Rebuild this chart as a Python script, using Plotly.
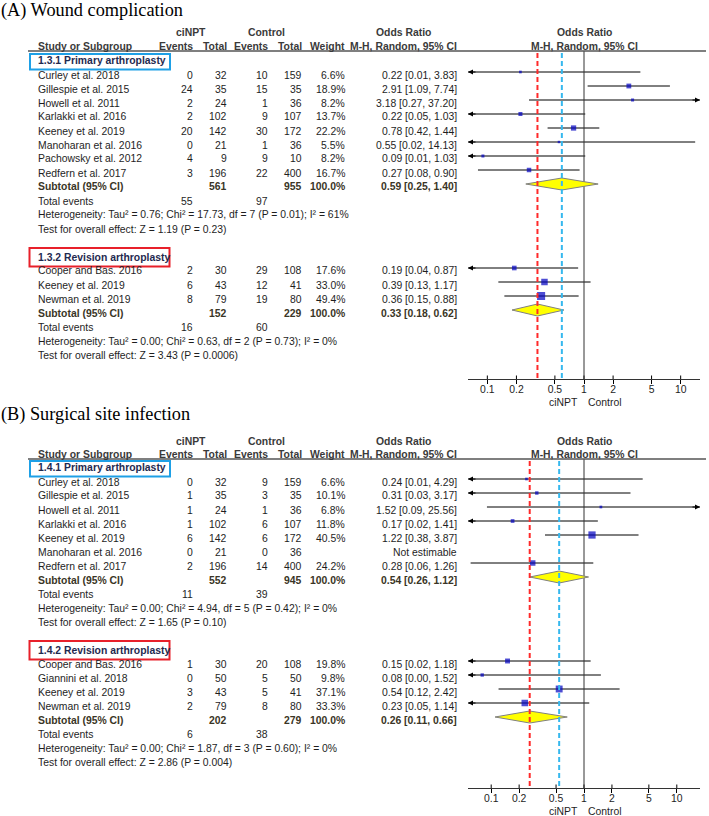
import math
import plotly.graph_objects as go

W, H = 709, 816

# ---------------- data ----------------
# Panel A : wound complication
A_title = "(A) Wound complication"
A1_label = "1.3.1 Primary arthroplasty"
A1_study = ["Curley et al. 2018", "Gillespie et al. 2015", "Howell et al. 2011",
            "Karlakki et al. 2016", "Keeney et al. 2019", "Manoharan et al. 2016",
            "Pachowsky et al. 2012", "Redfern et al. 2017"]
A1_ev1 = [0, 24, 2, 2, 20, 0, 4, 3]
A1_tot1 = [32, 35, 24, 102, 142, 21, 9, 196]
A1_ev2 = [10, 15, 1, 9, 30, 1, 9, 22]
A1_tot2 = [159, 35, 36, 107, 172, 36, 10, 400]
A1_weight = [6.6, 18.9, 8.2, 13.7, 22.2, 5.5, 8.2, 16.7]
A1_or = [0.22, 2.91, 3.18, 0.22, 0.78, 0.55, 0.09, 0.27]
A1_lo = [0.01, 1.09, 0.27, 0.05, 0.42, 0.02, 0.01, 0.08]
A1_hi = [3.83, 7.74, 37.20, 1.03, 1.44, 14.13, 1.03, 0.90]
A1_sub_tot = [561, 955]
A1_sub_or = [0.59, 0.25, 1.40]
A1_events = [55, 97]
A1_het = "Heterogeneity: Tau² = 0.76; Chi² = 17.73, df = 7 (P = 0.01); I² = 61%"
A1_test = "Test for overall effect: Z = 1.19 (P = 0.23)"

A2_label = "1.3.2 Revision arthroplasty"
A2_study = ["Cooper and Bas. 2016", "Keeney et al. 2019", "Newman et al. 2019"]
A2_ev1 = [2, 6, 8]
A2_tot1 = [30, 43, 79]
A2_ev2 = [29, 12, 19]
A2_tot2 = [108, 41, 80]
A2_weight = [17.6, 33.0, 49.4]
A2_or = [0.19, 0.39, 0.36]
A2_lo = [0.04, 0.13, 0.15]
A2_hi = [0.87, 1.17, 0.88]
A2_sub_tot = [152, 229]
A2_sub_or = [0.33, 0.18, 0.62]
A2_events = [16, 60]
A2_het = "Heterogeneity: Tau² = 0.00; Chi² = 0.63, df = 2 (P = 0.73); I² = 0%"
A2_test = "Test for overall effect: Z = 3.43 (P = 0.0006)"

# Panel B : surgical site infection
B_title = "(B) Surgical site infection"
B1_label = "1.4.1 Primary arthroplasty"
B1_study = ["Curley et al. 2018", "Gillespie et al. 2015", "Howell et al. 2011",
            "Karlakki et al. 2016", "Keeney et al. 2019", "Manoharan et al. 2016",
            "Redfern et al. 2017"]
B1_ev1 = [0, 1, 1, 1, 6, 0, 2]
B1_tot1 = [32, 35, 24, 102, 142, 21, 196]
B1_ev2 = [9, 3, 1, 6, 6, 0, 14]
B1_tot2 = [159, 35, 36, 107, 172, 36, 400]
B1_weight = [6.6, 10.1, 6.8, 11.8, 40.5, None, 24.2]
B1_or = [0.24, 0.31, 1.52, 0.17, 1.22, None, 0.28]
B1_lo = [0.01, 0.03, 0.09, 0.02, 0.38, None, 0.06]
B1_hi = [4.29, 3.17, 25.56, 1.41, 3.87, None, 1.26]
B1_sub_tot = [552, 945]
B1_sub_or = [0.54, 0.26, 1.12]
B1_events = [11, 39]
B1_het = "Heterogeneity: Tau² = 0.00; Chi² = 4.94, df = 5 (P = 0.42); I² = 0%"
B1_test = "Test for overall effect: Z = 1.65 (P = 0.10)"

B2_label = "1.4.2 Revision arthroplasty"
B2_study = ["Cooper and Bas. 2016", "Giannini et al. 2018", "Keeney et al. 2019",
            "Newman et al. 2019"]
B2_ev1 = [1, 0, 3, 2]
B2_tot1 = [30, 50, 43, 79]
B2_ev2 = [20, 5, 5, 8]
B2_tot2 = [108, 50, 41, 80]
B2_weight = [19.8, 9.8, 37.1, 33.3]
B2_or = [0.15, 0.08, 0.54, 0.23]
B2_lo = [0.02, 0.00, 0.12, 0.05]
B2_hi = [1.18, 1.52, 2.42, 1.14]
B2_sub_tot = [202, 279]
B2_sub_or = [0.26, 0.11, 0.66]
B2_events = [6, 38]
B2_het = "Heterogeneity: Tau² = 0.00; Chi² = 1.87, df = 3 (P = 0.60); I² = 0%"
B2_test = "Test for overall effect: Z = 2.86 (P = 0.004)"

tick_vals = [0.1, 0.2, 0.5, 1, 2, 5, 10]
tick_text = ["0.1", "0.2", "0.5", "1", "2", "5", "10"]
fav_left, fav_right = "ciNPT", "Control"

# ---------------- styling ----------------
SANS = "Liberation Sans, Arial, sans-serif"
SERIF = "Liberation Serif, Times New Roman, serif"
FS = 10.4
TXT = "#1e1e1e"
HDR = "#3a3a3a"
GRP = "#1f2a50"
SUBC = "#3a3526"
BLUE_BOX = "#1ea0e6"
RED_BOX = "#e8202a"
RED_DASH = "#ff2a2a"
BLUE_DASH = "#35b8ee"
SQ = "#0000c0"

C_NAME, C_EV1, C_TOT1, C_EV2, C_TOT2, C_W, C_CI = 37, 194, 228, 269, 303, 346, 458
PITCH = 14.0
GOFF = 3.0  # graphics sit slightly above text centre

anns, shapes, traces = [], [], []


def T(x, y, s, anchor="left", bold=False, color=TXT, size=FS, family=SANS):
    anns.append(dict(xref="paper", yref="paper", x=x / W, y=1 - y / H,
                     text=f"<b>{s}</b>" if bold else s, showarrow=False,
                     xanchor=anchor, yanchor="middle", borderpad=0,
                     font=dict(family=family, size=size, color=color)))


def rect_px(x0, y0, x1, y1, color):
    shapes.append(dict(type="rect", xref="paper", yref="paper",
                       x0=x0 / W, x1=x1 / W, y0=1 - y0 / H, y1=1 - y1 / H,
                       line=dict(color=color, width=2), fillcolor="rgba(0,0,0,0)"))


def hline_px(x0, x1, y, color="#555555", width=1.5):
    shapes.append(dict(type="line", xref="paper", yref="paper",
                       x0=x0 / W, x1=x1 / W, y0=1 - y / H, y1=1 - y / H,
                       line=dict(color=color, width=width)))


def group(label, study, ev1, tot1, ev2, tot2, weight, orr, lo, hi, sub_tot, sub_or,
          events, het, test):
    return dict(label=label, study=study, ev1=ev1, tot1=tot1, ev2=ev2, tot2=tot2,
                weight=weight, orr=orr, lo=lo, hi=hi, sub_tot=sub_tot, sub_or=sub_or,
                events=events, het=het, test=test)


panels = [
    dict(title=A_title, title_y=10.5, h1=32.5, h2=46, rule=51, row0=61, axis_y=379,
         top=0, half=1.2, xa="x", ya="y",
         groups=[group(A1_label, A1_study, A1_ev1, A1_tot1, A1_ev2, A1_tot2, A1_weight,
                       A1_or, A1_lo, A1_hi, A1_sub_tot, A1_sub_or, A1_events, A1_het, A1_test),
                 group(A2_label, A2_study, A2_ev1, A2_tot1, A2_ev2, A2_tot2, A2_weight,
                       A2_or, A2_lo, A2_hi, A2_sub_tot, A2_sub_or, A2_events, A2_het, A2_test)]),
    dict(title=B_title, title_y=414.5, h1=441, h2=454, rule=459, row0=468, axis_y=788,
         top=400, half=1.25, xa="x2", ya="y2",
         groups=[group(B1_label, B1_study, B1_ev1, B1_tot1, B1_ev2, B1_tot2, B1_weight,
                       B1_or, B1_lo, B1_hi, B1_sub_tot, B1_sub_or, B1_events, B1_het, B1_test),
                 group(B2_label, B2_study, B2_ev1, B2_tot1, B2_ev2, B2_tot2, B2_weight,
                       B2_or, B2_lo, B2_hi, B2_sub_tot, B2_sub_or, B2_events, B2_het, B2_test)]),
]

box_colors = [BLUE_BOX, RED_BOX]
dash_colors = [BLUE_DASH, RED_DASH]

for p in panels:
    xa, ya = p["xa"], p["ya"]
    half = p["half"]
    xmin, xmax = 10 ** (-half), 10 ** half
    T(0, p["title_y"], p["title"], family=SERIF, size=18.3, color="#000000")
    # column headers
    T(191, p["h1"], "ciNPT", "center", True, HDR)
    T(266, p["h1"], "Control", "center", True, HDR)
    T(403, p["h1"], "Odds Ratio", "center", True, HDR)
    T(584, p["h1"], "Odds Ratio", "center", True, HDR)
    T(C_NAME, p["h2"], "Study or Subgroup", "left", True, HDR)
    T(C_EV1, p["h2"], "Events", "right", True, HDR)
    T(C_TOT1, p["h2"], "Total", "right", True, HDR)
    T(C_EV2, p["h2"], "Events", "right", True, HDR)
    T(C_TOT2, p["h2"], "Total", "right", True, HDR)
    T(C_W, p["h2"], "Weight", "right", True, HDR)
    T(C_CI, p["h2"], "M-H, Random, 95% CI", "right", True, HDR)
    T(584, p["h2"], "M-H, Random, 95% CI", "center", True, HDR)
    hline_px(28, 706, p["rule"])

    ci_x, ci_y = [], []
    sq_x, sq_y, sq_s = [], [], []
    row = 0
    dash_vals = []
    diamonds = []
    for gi, g in enumerate(p["groups"]):
        yb = p["row0"] + PITCH * row
        T(C_NAME, yb, g["label"], "left", True, GRP)
        if gi == 0:
            rect_px(30, yb - 7, 170, yb + 8.5, box_colors[gi])
        else:
            rect_px(29.5, yb - 9, 169.5, yb + 9.5, box_colors[gi])
        n = len(g["study"])
        for i in range(n):
            y = p["row0"] + PITCH * (row + 1 + i)
            T(C_NAME, y, g["study"][i])
            T(C_EV1, y, str(g["ev1"][i]), "right")
            T(C_TOT1, y, str(g["tot1"][i]), "right")
            T(C_EV2, y, str(g["ev2"][i]), "right")
            T(C_TOT2, y, str(g["tot2"][i]), "right")
            if g["orr"][i] is None:
                T(C_CI, y, "Not estimable", "right")
                continue
            T(C_W, y, f"{g['weight'][i]:.1f}%", "right")
            T(C_CI, y, f"{g['orr'][i]:.2f} [{g['lo'][i]:.2f}, {g['hi'][i]:.2f}]", "right")
            gy = y - GOFF
            lo_c = max(g["lo"][i], xmin) if g["lo"][i] > 0 else xmin
            hi_c = min(g["hi"][i], xmax)
            ci_x += [lo_c, hi_c, None]
            ci_y += [gy, gy, None]
            if g["lo"][i] < xmin:
                anns.append(dict(xref=xa, yref=ya, x=-half, y=gy, ax=9, ay=0,
                                 axref="pixel", ayref="pixel", text="", showarrow=True,
                                 arrowhead=2, arrowsize=1, arrowwidth=1, arrowcolor="#000"))
            if g["hi"][i] > xmax:
                anns.append(dict(xref=xa, yref=ya, x=half, y=gy, ax=-9, ay=0,
                                 axref="pixel", ayref="pixel", text="", showarrow=True,
                                 arrowhead=2, arrowsize=1, arrowwidth=1, arrowcolor="#000"))
            sq_x.append(g["orr"][i])
            sq_y.append(gy)
            sq_s.append(max(2.4, 1.2 * math.sqrt(g["weight"][i]) - 0.4))
        ys = p["row0"] + PITCH * (row + 1 + n)
        T(C_NAME, ys, "Subtotal (95% CI)", "left", True, SUBC)
        T(C_TOT1, ys, str(g["sub_tot"][0]), "right", True, SUBC)
        T(C_TOT2, ys, str(g["sub_tot"][1]), "right", True, SUBC)
        T(C_W, ys, "100.0%", "right", True, SUBC)
        so = g["sub_or"]
        T(C_CI, ys, f"{so[0]:.2f} [{so[1]:.2f}, {so[2]:.2f}]", "right", True, SUBC)
        diamonds.append((so, ys - GOFF))
        dash_vals.append(so[0])
        ye = ys + PITCH
        T(C_NAME, ye, "Total events")
        T(C_EV1, ye, str(g["events"][0]), "right")
        T(C_EV2, ye, str(g["events"][1]), "right")
        T(C_NAME, ye + PITCH, g["het"])
        T(C_NAME, ye + 2 * PITCH, g["test"])
        row = row + n + 6

    top_line = p["rule"]
    ay = p["axis_y"]
    # CI lines + upper tick halves
    tx, tyy = [], []
    for v in tick_vals:
        tx += [v, v, None]
        tyy += [ay - 3.5, ay, None]
    traces.append(go.Scatter(x=ci_x + tx, y=ci_y + tyy, mode="lines", xaxis=xa, yaxis=ya,
                             line=dict(color="#000000", width=1), hoverinfo="skip",
                             showlegend=False))
    # line of no effect
    traces.append(go.Scatter(x=[1, 1], y=[top_line, ay], mode="lines", xaxis=xa, yaxis=ya,
                             line=dict(color="#333333", width=1), hoverinfo="skip",
                             showlegend=False))
    traces.append(go.Scatter(x=sq_x, y=sq_y, mode="markers", xaxis=xa, yaxis=ya,
                             marker=dict(symbol="square", size=sq_s, color=SQ,
                                         line=dict(width=0)),
                             hoverinfo="skip", showlegend=False))
    for so, dy in diamonds:
        traces.append(go.Scatter(x=[so[1], so[0], so[2], so[0], so[1]],
                                 y=[dy, dy - 6, dy, dy + 6, dy], mode="lines",
                                 fill="toself", fillcolor="#ffff00", xaxis=xa, yaxis=ya,
                                 line=dict(color="#808080", width=1), hoverinfo="skip",
                                 showlegend=False))
    for gi, v in enumerate(dash_vals):
        traces.append(go.Scatter(x=[v, v], y=[top_line + 2, ay], mode="lines",
                                 xaxis=xa, yaxis=ya,
                                 line=dict(color=dash_colors[gi], width=2, dash="5px,3px"),
                                 hoverinfo="skip", showlegend=False))
    # favours labels
    fav_y = ay + 23
    anns.append(dict(xref=xa, yref="paper", x=0, y=1 - fav_y / H, text=fav_left,
                     showarrow=False, xanchor="right", yanchor="middle", xshift=-5,
                     borderpad=0, font=dict(family=SANS, size=FS, color=TXT)))
    anns.append(dict(xref=xa, yref="paper", x=0, y=1 - fav_y / H, text=fav_right,
                     showarrow=False, xanchor="left", yanchor="middle", xshift=3,
                     borderpad=0, font=dict(family=SANS, size=FS, color=TXT)))

fig = go.Figure(traces)


def xaxis_cfg(half, anchor):
    return dict(type="log", range=[-half, half], domain=[468 / W, 700 / W], anchor=anchor,
                tickvals=tick_vals, ticktext=tick_text, ticks="outside", ticklen=4,
                tickwidth=1, tickcolor="#000", showline=True, linecolor="#333333",
                linewidth=1, showgrid=False, zeroline=False, fixedrange=True,
                ticklabelstandoff=-3,
                tickfont=dict(family=SANS, size=FS, color=TXT))


fig.update_layout(
    width=W, height=H, margin=dict(l=0, r=0, t=0, b=0),
    paper_bgcolor="white", plot_bgcolor="rgba(0,0,0,0)",
    xaxis=xaxis_cfg(1.2, "y"),
    xaxis2=xaxis_cfg(1.25, "y2"),
    yaxis=dict(domain=[1 - 379 / H, 1], range=[379, 0], visible=False, fixedrange=True),
    yaxis2=dict(domain=[1 - 788 / H, 1 - 400 / H], range=[788, 400], visible=False,
                fixedrange=True),
    annotations=anns, shapes=shapes, showlegend=False,
)

fig.write_html("out.html", config={"displayModeBar": False},
               post_script="document.body.style.margin='0px';"
                           "document.body.style.overflow='hidden';")
